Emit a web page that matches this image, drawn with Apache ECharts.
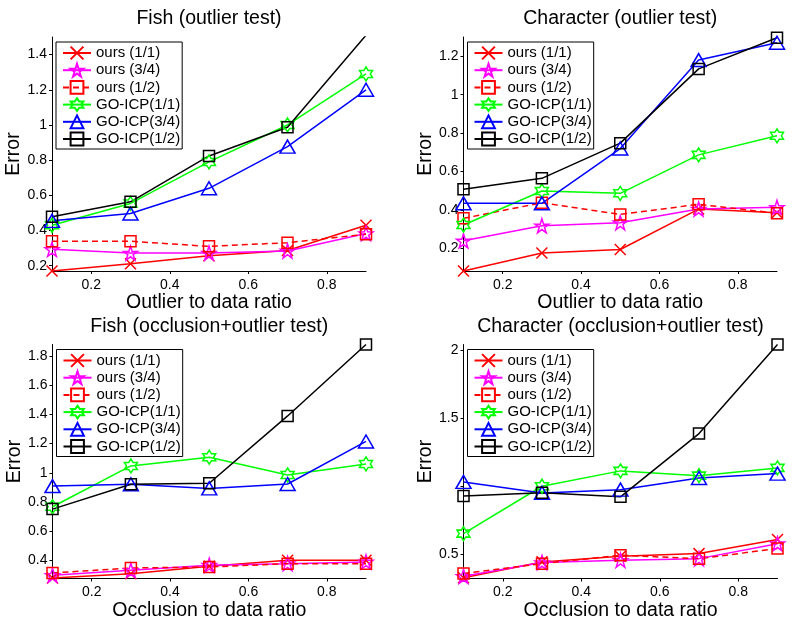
<!DOCTYPE html>
<html>
<head>
<meta charset="utf-8">
<script src="https://cdn.jsdelivr.net/npm/echarts@6/dist/echarts.min.js"></script>
<style>
html, body { margin: 0; padding: 0; background: #fff; }
#main { width: 795px; height: 623px; }
</style>
</head>
<body>
<div id="main"></div>
<script>
var ratios = [0.1, 0.3, 0.5, 0.7, 0.9];
var methods = ['ours (1/1)', 'ours (3/4)', 'ours (1/2)', 'GO-ICP(1/1)', 'GO-ICP(3/4)', 'GO-ICP(1/2)'];

// error values, one row per method (same order as methods)
var fishOutlier = [
    [0.17, 0.211, 0.257, 0.287, 0.43],
    [0.293, 0.272, 0.272, 0.284, 0.383],
    [0.339, 0.339, 0.31, 0.331, 0.379],
    [0.43, 0.554, 0.79, 1.0, 1.29],
    [0.455, 0.497, 0.64, 0.877, 1.2],
    [0.478, 0.563, 0.824, 0.987, 1.51]
];
var charOutlier = [
    [0.083, 0.177, 0.195, 0.405, 0.386],
    [0.24, 0.318, 0.334, 0.405, 0.414],
    [0.357, 0.438, 0.377, 0.43, 0.383],
    [0.322, 0.499, 0.487, 0.687, 0.786],
    [0.435, 0.435, 0.72, 1.18, 1.27],
    [0.508, 0.565, 0.748, 1.134, 1.296]
];
var fishOcclusion = [
    [0.278, 0.308, 0.359, 0.40, 0.40],
    [0.297, 0.331, 0.366, 0.377, 0.389],
    [0.313, 0.347, 0.354, 0.377, 0.377],
    [0.767, 1.047, 1.107, 0.985, 1.061],
    [0.909, 0.921, 0.893, 0.923, 1.215],
    [0.751, 0.921, 0.928, 1.39, 1.88]
];
var charOcclusion = [
    [0.328, 0.444, 0.485, 0.505, 0.608],
    [0.338, 0.439, 0.456, 0.468, 0.578],
    [0.358, 0.431, 0.493, 0.468, 0.542],
    [0.652, 1.0, 1.113, 1.078, 1.135],
    [1.032, 0.951, 0.975, 1.061, 1.093],
    [0.929, 0.953, 0.922, 1.387, 2.042]
];

var xTicks = [0.2, 0.4, 0.6, 0.8];
var fishOutlierTicks = [0.2, 0.4, 0.6, 0.8, 1, 1.2, 1.4];
var charOutlierTicks = [0.2, 0.4, 0.6, 0.8, 1, 1.2];
var fishOcclusionTicks = [0.4, 0.6, 0.8, 1, 1.2, 1.4, 1.6, 1.8];
var charOcclusionTicks = [0.5, 1, 1.5, 2];
var charOcclusionLabels = [0.5, 1.5, 2];

var FONT = '"Liberation Sans", Arial, Helvetica, sans-serif';

function starPath(n, rOut, rIn) {
    var pts = [];
    for (var i = 0; i < 2 * n; i++) {
        var r = i % 2 ? rIn : rOut;
        var a = -Math.PI / 2 + i * Math.PI / n;
        pts.push((r * Math.cos(a)).toFixed(2) + ',' + (r * Math.sin(a)).toFixed(2));
    }
    return 'path://M' + pts.join('L') + 'Z';
}

// matlab-like markers: x, p, s, h, ^, s
var styles = [
    {color: '#ff0000', symbol: 'path://M0,0L11,11M11,0L0,11', size: 11, type: 'solid'},
    {color: '#ff00ff', symbol: starPath(5, 7, 2.7), size: 14, type: 'solid'},
    {color: '#ff0000', symbol: 'path://M0,0L11,0L11,11L0,11Z', size: 11, type: [6, 4]},
    {color: '#00ff00', symbol: starPath(6, 7, 4.04), size: [13, 14], type: 'solid'},
    {color: '#0000ff', symbol: 'path://M7.5,0L15,13L0,13Z', size: [15, 13], type: 'solid'},
    {color: '#000000', symbol: 'path://M0,0L11,0L11,11L0,11Z', size: 11, type: 'solid'}
];

var panels = [
    {title: 'Fish (outlier test)', xName: 'Outlier to data ratio', data: fishOutlier,
     left: 52, top: 37, width: 314, min: 0.17, max: 1.5, ticks: fishOutlierTicks, labels: fishOutlierTicks},
    {title: 'Character (outlier test)', xName: 'Outlier to data ratio', data: charOutlier,
     left: 463.5, top: 37, width: 313.5, min: 0.083, max: 1.30, ticks: charOutlierTicks, labels: charOutlierTicks},
    {title: 'Fish (occlusion+outlier test)', xName: 'Occlusion to data ratio', data: fishOcclusion,
     left: 52.5, top: 344.5, width: 313.5, min: 0.275, max: 1.88, ticks: fishOcclusionTicks, labels: fishOcclusionTicks},
    {title: 'Character (occlusion+outlier test)', xName: 'Occlusion to data ratio', data: charOcclusion,
     left: 463.5, top: 344.5, width: 314, min: 0.322, max: 2.042, ticks: charOcclusionTicks, labels: charOcclusionLabels}
];
var H = 234;

function fmt(v) { return String(+v.toFixed(2)); }

var option = {
    animation: false,
    backgroundColor: '#fff',
    grid: [], xAxis: [], yAxis: [], legend: [], series: [], graphic: []
};

panels.forEach(function (p, i) {
    option.grid.push({left: p.left, top: p.top, width: p.width, height: H, containLabel: false});
    option.xAxis.push({
        type: 'value', gridIndex: i, min: 0.1, max: 0.9,
        name: p.xName, nameLocation: 'middle', nameGap: 19,
        nameTextStyle: {fontSize: 19.5, color: '#000', fontFamily: FONT},
        axisLine: {lineStyle: {color: '#000', width: 1}},
        axisTick: {show: true, length: 3, customValues: xTicks, lineStyle: {color: '#000'}},
        axisLabel: {customValues: xTicks, formatter: fmt, fontSize: 14, color: '#000', fontFamily: FONT, margin: 7},
        splitLine: {show: false}
    });
    option.yAxis.push({
        type: 'value', gridIndex: i, min: p.min, max: p.max,
        name: 'Error', nameLocation: 'middle', nameGap: 24,
        nameTextStyle: {fontSize: 19.5, color: '#000', fontFamily: FONT},
        axisLine: {show: true, lineStyle: {color: '#000', width: 1}},
        axisTick: {show: true, length: 3, customValues: p.ticks, lineStyle: {color: '#000'}},
        axisLabel: {customValues: p.labels, formatter: fmt, fontSize: 14, color: '#000', fontFamily: FONT, margin: 5},
        splitLine: {show: false}
    });
    option.legend.push({
        data: methods, orient: 'vertical',
        left: p.left + 4, top: p.top + 5,
        backgroundColor: '#fff', borderColor: '#000', borderWidth: 1,
        padding: [3, 2, 2, 6], itemGap: 1.2, itemWidth: 28, itemHeight: 16,
        selectedMode: false,
        textStyle: {fontSize: 15, color: '#000', fontFamily: FONT, lineHeight: 16}
    });
    option.graphic.push({
        type: 'text', x: p.left + p.width / 2, y: p.top - 18,
        style: {text: p.title, fontSize: 19.5, fontFamily: FONT, fill: '#000', align: 'center', verticalAlign: 'middle'}
    });
    methods.forEach(function (name, m) {
        var s = styles[m];
        option.series.push({
            name: name, type: 'line', xAxisIndex: i, yAxisIndex: i,
            data: ratios.map(function (x, k) { return [x, p.data[m][k]]; }),
            symbol: s.symbol, symbolSize: s.size, showAllSymbol: true,
            clip: true,
            lineStyle: {color: s.color, width: 1.5, type: s.type},
            itemStyle: {color: 'transparent', borderColor: s.color, borderWidth: 1.5},
            emphasis: {disabled: true}
        });
    });
});

var myChart = echarts.init(document.getElementById('main'));
myChart.setOption(option);
</script>
</body>
</html>
